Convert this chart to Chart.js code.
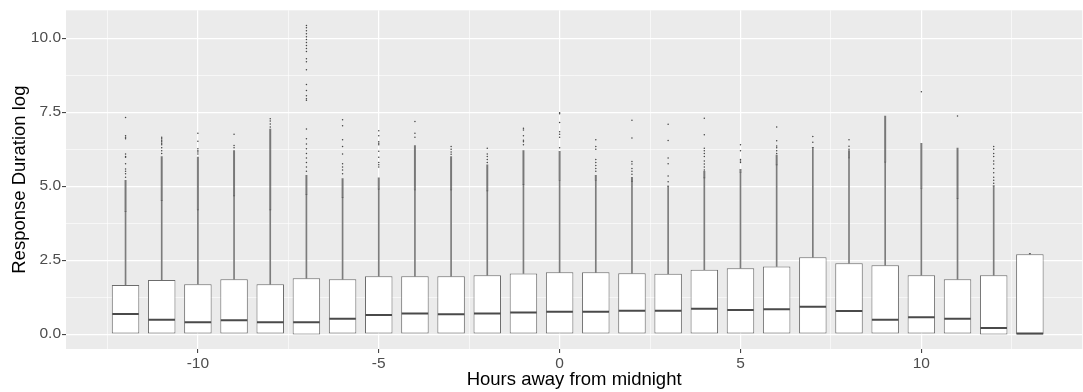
<!DOCTYPE html>
<html>
<head>
<meta charset="utf-8">
<script src="https://cdn.jsdelivr.net/npm/chart.js@4"></script>
<style>
  html, body { margin: 0; padding: 0; background: #ffffff; }
  #wrap { width: 1083px; height: 392px; position: relative; }
</style>
</head>
<body>
<div id="wrap"><canvas id="c"></canvas></div>
<script>
// ---------- data ----------
const hours = [-12,-11,-10,-9,-8,-7,-6,-5,-4,-3,-2,-1,0,1,2,3,4,5,6,7,8,9,10,11,12,13];
const q1 = [0.02,0.02,0.02,0.02,0.02,-0.01,0.02,0.02,0.02,0.02,0.02,0.02,0.02,0.02,0.02,0.02,0.02,0.02,0.02,0.02,0.02,0.02,0.02,0.02,-0.01,-0.01];
const medians = [0.68,0.49,0.40,0.47,0.40,0.40,0.52,0.65,0.70,0.67,0.70,0.73,0.76,0.76,0.79,0.79,0.86,0.82,0.84,0.93,0.78,0.49,0.57,0.52,0.21,0.02];
const q3 = [1.66,1.83,1.69,1.86,1.69,1.89,1.86,1.96,1.96,1.96,1.99,2.05,2.09,2.09,2.06,2.04,2.18,2.23,2.29,2.60,2.40,2.33,1.99,1.86,1.99,2.70];
const whiskerHi = [4.14,4.51,4.20,4.67,4.20,4.72,4.62,4.90,4.87,4.87,4.84,5.06,5.20,5.20,5.15,5.00,5.28,5.46,5.72,6.31,5.95,5.81,4.92,4.59,5.01,2.73];
// upper end of the densely packed run of outliers just above each whisker
const denseOutlierHi = [5.20,6.00,5.98,6.20,6.93,5.37,5.26,5.28,6.37,6.00,5.72,6.20,6.18,5.37,5.30,5.00,5.50,5.57,6.05,6.31,6.20,7.37,6.45,6.29,5.01,2.73];
// individual outliers above the dense run
const sparseOutliers = [
  [7.32,6.70,6.65,6.60,6.09,6.00,5.98,5.76,5.58,5.50,5.42,5.30],
  [6.65,6.60,6.55,6.50,6.45,6.40,6.30,6.20,6.10],
  [6.79,6.52,6.26,6.20,6.15,6.09],
  [6.75,6.37,6.30],
  [7.28,7.20,7.10,7.00],
  [10.43,10.35,10.25,10.15,10.05,9.95,9.85,9.75,9.65,9.55,9.30,9.20,8.93,8.43,8.23,8.05,7.95,7.90,6.93,6.60,6.42,6.26,6.10,5.95,5.80,5.65,5.50],
  [7.24,7.04,6.57,6.34,6.09,5.76,5.65,5.55,5.42],
  [6.87,6.70,6.50,6.45,6.40,6.18,5.98,5.80,5.72,5.65],
  [7.18,6.79,6.65],
  [6.34,6.25,6.15,6.08],
  [6.28,6.09,6.00,5.90,5.80],
  [6.96,6.90,6.70,6.55,6.50,6.40],
  [7.48,7.45,7.15,6.84,6.75,6.65,6.30],
  [6.57,6.34,6.25,5.90,5.80,5.70,5.60,5.50],
  [7.23,6.63,5.83,5.75,5.60,5.50,5.40],
  [7.09,6.54,5.95,5.76,5.34,5.15],
  [7.29,6.74,6.28,6.20,6.10,6.00,5.85,5.75,5.65,5.55],
  [6.40,6.20,5.90,5.85,5.80],
  [7.00,6.53,6.36,6.30,6.20,6.10],
  [6.68,6.48],
  [6.57,6.35,6.25],
  [],
  [8.19],
  [7.37],
  [6.34,6.25,6.10,6.00,5.85,5.75,5.60,5.45,5.30,5.20,5.10],
  []
];
const xMajorTicks = [-10,-5,0,5,10];
const xMinorTicks = [-12.5,-7.5,-2.5,2.5,7.5,12.5];
const yMajorTicks = [0,2.5,5,7.5,10];
const yMinorTicks = [1.25,3.75,6.25,8.75];
const xTitle = 'Hours away from midnight';
const yTitle = 'Response Duration log';

// ---------- chart ----------
const BOX_FRAC = 0.76;
const FONT = '"Liberation Sans", Arial, sans-serif';

const boxData = hours.map((h, i) => ({ x: h, y: [q1[i], q3[i]] }));
const whiskerData = hours.map((h, i) => ({ x: h, y: [q3[i], whiskerHi[i]] }));
const denseData = hours.map((h, i) => ({ x: h, y: [whiskerHi[i], denseOutlierHi[i]] }));
const medianData = hours.map((h, i) => ({ x: h, y: medians[i] }));
const outlierData = [];
hours.forEach((h, i) => sparseOutliers[i].forEach(v => outlierData.push({ x: h, y: v })));

const panelBg = {
  id: 'panelBg',
  beforeDraw(chart) {
    const { ctx, chartArea: a } = chart;
    ctx.save();
    ctx.fillStyle = '#EBEBEB';
    ctx.fillRect(a.left, a.top, a.right - a.left, a.bottom - a.top);
    ctx.restore();
  }
};

const isXMajor = v => xMajorTicks.includes(v);
const isYMajor = v => yMajorTicks.includes(v);

new Chart(document.getElementById('c'), {
  type: 'bar',
  data: {
    datasets: [
      {
        label: 'whisker', data: whiskerData, grouped: false, order: 5,
        backgroundColor: '#7c7c7c', borderWidth: 0, barThickness: 1
      },
      {
        label: 'dense outliers', data: denseData, grouped: false, order: 4,
        backgroundColor: 'rgba(70,70,70,0.7)', borderWidth: 0, barThickness: 1.3
      },
      {
        label: 'outliers', type: 'scatter', data: outlierData, order: 3,
        pointRadius: 0.75, pointBorderWidth: 0, pointBackgroundColor: '#444444',
        pointHoverRadius: 0.75
      },
      {
        label: 'box', data: boxData, grouped: false, order: 2,
        backgroundColor: '#ffffff', borderColor: '#6c6c6c', borderWidth: 1,
        borderSkipped: false, categoryPercentage: 1.0, barPercentage: BOX_FRAC
      },
      {
        label: 'median', type: 'scatter', data: medianData, order: 1,
        pointStyle: 'line', pointBorderColor: '#4a4a4a', pointBorderWidth: 2,
        pointRadius: (ctx) => {
          const s = ctx.chart.scales.x;
          if (!s) return 13.7;
          return Math.abs(s.getPixelForValue(BOX_FRAC / 2) - s.getPixelForValue(0)) - 0.5;
        }
      }
    ]
  },
  options: {
    responsive: true,
    maintainAspectRatio: false,
    animation: false,
    events: [],
    layout: { padding: { top: 7, left: 0, right: 0, bottom: 0 } },
    plugins: { legend: { display: false }, tooltip: { enabled: false } },
    scales: {
      x: {
        type: 'linear',
        min: -13.646, max: 14.448,
        offset: false,
        afterBuildTicks: (axis) => { axis.ticks = [...xMinorTicks, ...xMajorTicks].sort((a, b) => a - b).map(v => ({ value: v })); },
        afterFit: (scale) => { scale.height = 43; },
        border: { display: false },
        grid: {
          color: '#ffffff',
          offset: false,
          lineWidth: (ctx) => isXMajor(ctx.tick.value) ? 1.2 : 0.6,
          tickColor: (ctx) => isXMajor(ctx.tick.value) ? '#333333' : 'rgba(0,0,0,0)',
          tickLength: 4, tickWidth: 1
        },
        ticks: {
          autoSkip: false, maxRotation: 0, padding: 1,
          color: '#4D4D4D', font: { family: FONT, size: 15.5 },
          callback: (v) => isXMajor(v) ? String(v) : ''
        },
        title: {
          display: true, text: xTitle, color: '#000000',
          font: { family: FONT, size: 18.5 }, padding: { top: 0, bottom: 1 }
        }
      },
      y: {
        type: 'linear',
        min: -0.5, max: 10.94,
        afterBuildTicks: (axis) => { axis.ticks = [...yMajorTicks, ...yMinorTicks].sort((a, b) => a - b).map(v => ({ value: v })); },
        afterFit: (scale) => { scale.width = 66; },
        border: { display: false },
        grid: {
          color: '#ffffff',
          lineWidth: (ctx) => isYMajor(ctx.tick.value) ? 1.2 : 0.6,
          tickColor: (ctx) => isYMajor(ctx.tick.value) ? '#333333' : 'rgba(0,0,0,0)',
          tickLength: 4, tickWidth: 1
        },
        ticks: {
          autoSkip: false, padding: 1,
          color: '#4D4D4D', font: { family: FONT, size: 15.5 },
          callback: (v) => isYMajor(v) ? v.toFixed(1) : ''
        },
        title: {
          display: true, text: yTitle, color: '#000000',
          font: { family: FONT, size: 18.5 }, padding: { top: 9, bottom: 0 }
        }
      }
    }
  },
  plugins: [panelBg]
});
</script>
</body>
</html>
